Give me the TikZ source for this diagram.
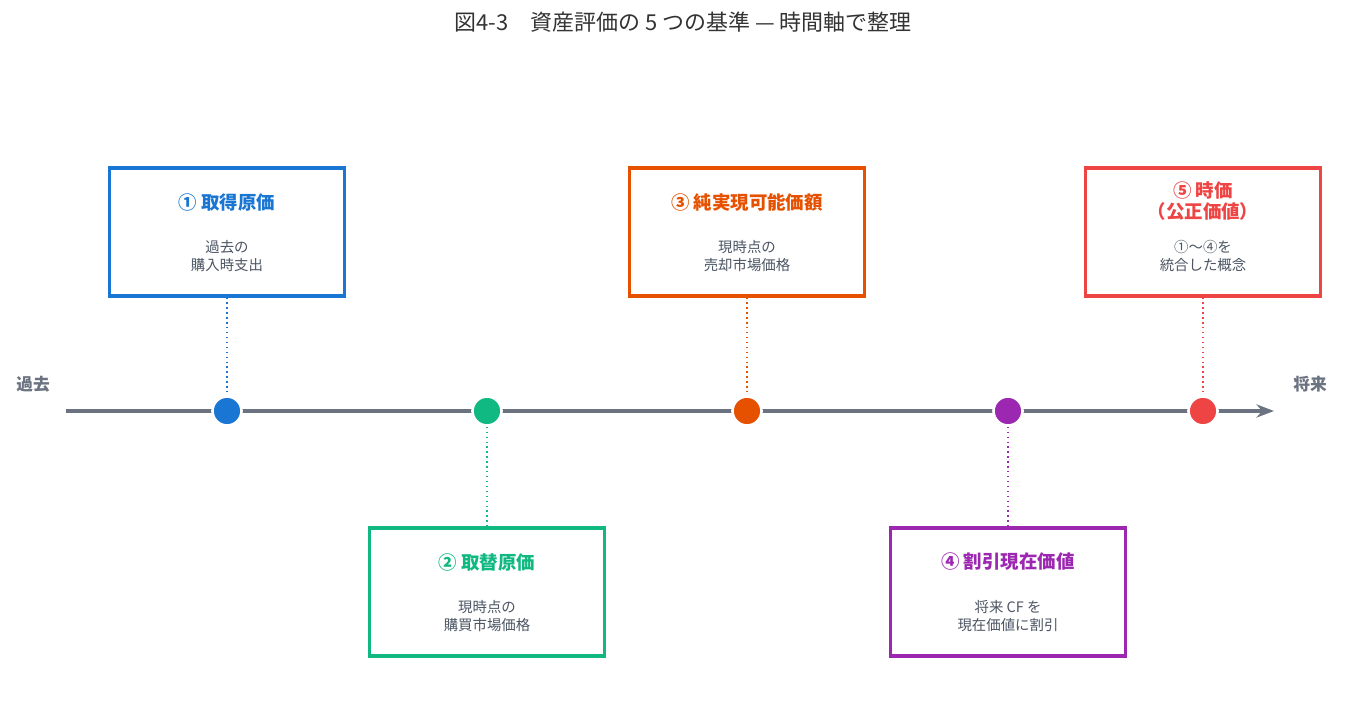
\documentclass[tikz,border=0pt]{standalone}
\usepackage{fontspec}
\setmainfont{Noto Sans CJK JP}
\usetikzlibrary{arrows.meta,calc}
\definecolor{axisgray}{HTML}{6B7280}
\definecolor{textgray}{HTML}{4B5563}
\definecolor{cblue}{HTML}{1976D2}
\definecolor{cgreen}{HTML}{10B981}
\definecolor{corange}{HTML}{E65100}
\definecolor{cpurple}{HTML}{9C27B0}
\definecolor{cred}{HTML}{EF4444}
\tikzset{
  basis/.style={draw=#1, line width=1.8pt, minimum width=4.7cm, minimum height=2.56cm, fill=white},
  ttl/.style={text=#1, font=\fontsize{10.5}{12}\selectfont\bfseries, align=center},
  desc/.style={text=textgray, font=\fontsize{8.2}{10}\selectfont, align=center},
  dot/.style={circle, fill=#1, draw=white, line width=1.5pt, minimum size=0.58cm, inner sep=0pt},
  link/.style={draw=#1, dotted, line width=0.8pt},
}
\begin{document}
\begin{tikzpicture}[x=0.02cm,y=-0.02cm]
            \useasboundingbox (0,0) rectangle (1347,713);
            \node[font=\fontsize{12.5}{14}\selectfont, text=black!80] (T) at (683,22) {図4-3　資産評価の 5 つの基準 — 時間軸で整理};
            \node[text=axisgray, font=\fontsize{9.5}{11}\selectfont\bfseries] (Past) at (33,384) {過去};
            \node[text=axisgray, font=\fontsize{9.5}{11}\selectfont\bfseries] (Future) at (1310,384) {将来};
            \coordinate (A0) at (66,411);
            \coordinate (A1) at (1274,411);
            \draw[axisgray, line width=2pt, -{Stealth[length=3.5mm]}] (A0) -- (A1);
            % dots on the axis
            \node[dot=cblue] (D1) at (227,411) {};
            \node[dot=cgreen] (D2) at (487,411) {};
            \node[dot=corange] (D3) at (747,411) {};
            \node[dot=cpurple] (D4) at (1008,411) {};
            \node[dot=cred] (D5) at (1203,411) {};
            % boxes
            \node[basis=cblue] (B1) at (227,232) {};
            \node[basis=cgreen] (B2) at (487,592) {};
            \node[basis=corange] (B3) at (747,232) {};
            \node[basis=cpurple] (B4) at (1008,592) {};
            \node[basis=cred] (B5) at (1203,232) {};
            \node[ttl=cblue] at (227,202) {① 取得原価};
            \node[desc] at (227,256) {過去の\\購入時支出};
            \node[ttl=cgreen] at (487,562) {② 取替原価};
            \node[desc] at (487,616) {現時点の\\購買市場価格};
            \node[ttl=corange] at (747,202) {③ 純実現可能価額};
            \node[desc] at (747,256) {現時点の\\売却市場価格};
            \node[ttl=cpurple] at (1008,562) {④ 割引現在価値};
            \node[desc] at (1008,616) {将来 CF を\\現在価値に割引};
            \node[ttl=cred] at (1203,201) {⑤ 時価\\（公正価値）};
            \node[desc] at (1203,256) {①〜④を\\統合した概念};
            % links
            \draw[link=cblue] (B1.south) -- (D1.north);
            \draw[link=cgreen] (D2.south) -- (B2.north);
            \draw[link=corange] (B3.south) -- (D3.north);
            \draw[link=cpurple] (D4.south) -- (B4.north);
            \draw[link=cred] (B5.south) -- (D5.north);
        \end{tikzpicture}
\end{document}
